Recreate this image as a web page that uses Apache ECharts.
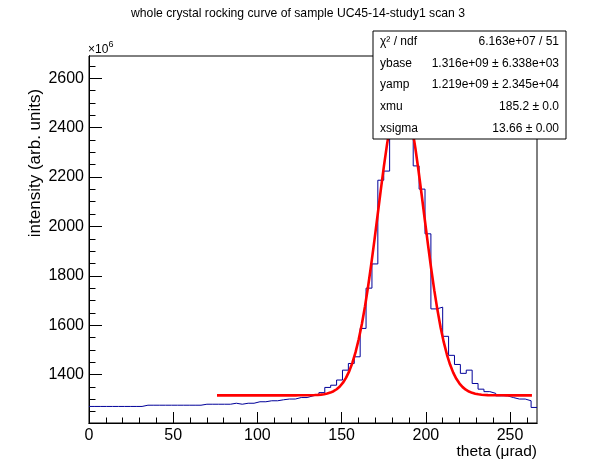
<!DOCTYPE html>
<html>
<head>
<meta charset="utf-8">
<title>whole crystal rocking curve</title>
<script src="https://cdn.jsdelivr.net/npm/echarts@6/dist/echarts.min.js"></script>
<style>
  html, body { margin: 0; padding: 0; background: #fff; }
  #chart { width: 596px; height: 472px; }
</style>
</head>
<body>
<div id="chart"></div>
<script>
// histogram: fixed width bins starting at theta = 0, values in units of 1e6
var binStart = 0;
var binWidth = 3.5;
var binValues = [
  1271, 1271, 1271, 1271, 1271, 1271, 1271, 1271, 1271,
  1276, 1276, 1276, 1276, 1276, 1276, 1276, 1276, 1276, 1276,
  1280, 1280, 1280, 1280, 1280, 1284, 1280, 1284, 1284,
  1290, 1290, 1294, 1294, 1298, 1301, 1301, 1307, 1307,
  1314, 1318, 1327, 1348, 1357, 1378, 1418, 1445, 1472,
  1587, 1750, 1848, 2187, 2224, 2470, 2620, 2560, 2420,
  2245, 2151, 1970, 1666, 1673, 1555, 1478, 1441, 1405,
  1418, 1364, 1341, 1331, 1324, 1314, 1314, 1307, 1301,
  1301, 1294, 1267
];

// axis ticks
var xTicks = [0, 50, 100, 150, 200, 250];
var xMinorTicks = [0, 10, 20, 30, 40, 50, 60, 70, 80, 90, 100, 110, 120, 130,
  140, 150, 160, 170, 180, 190, 200, 210, 220, 230, 240, 250, 260];
var yTicks = [1400, 1600, 1800, 2000, 2200, 2400, 2600];
var yMinorTicks = [1250, 1300, 1350, 1400, 1450, 1500, 1550, 1600, 1650, 1700,
  1750, 1800, 1850, 1900, 1950, 2000, 2050, 2100, 2150, 2200, 2250, 2300,
  2350, 2400, 2450, 2500, 2550, 2600, 2650];
var xRange = [0, 266];
var yRange = [1204, 2690];

// gaussian fit: ybase + yamp * exp(-(x - xmu)^2 / (2 xsigma^2)), from the stats box
var fitParams = [1316, 1219, 185.2, 13.66];
var fitRange = [76, 263];
var fitPoints = 100;

var statsLabels = ['\u03c7\u00b2 / ndf', 'ybase', 'yamp', 'xmu', 'xsigma'];
var statsValues = ['6.163e+07 / 51', '1.316e+09 \u00b1 6.338e+03',
  '1.219e+09 \u00b1 2.345e+04', '185.2 \u00b1 0.0', '13.66 \u00b1 0.00'];

var FONT = '"Liberation Sans", Arial, Helvetica, sans-serif';

// outline of the histogram, drawn as steps
function histSteps() {
  var pts = [];
  for (var i = 0; i < binValues.length; i++) {
    var x0 = binStart + i * binWidth;
    pts.push([x0, binValues[i]]);
    pts.push([x0 + binWidth, binValues[i]]);
  }
  return pts;
}

function fitCurve() {
  var pts = [];
  var step = (fitRange[1] - fitRange[0]) / fitPoints;
  for (var i = 0; i <= fitPoints; i++) {
    var x = fitRange[0] + i * step;
    var d = (x - fitParams[2]) / fitParams[3];
    pts.push([x, fitParams[0] + fitParams[1] * Math.exp(-0.5 * d * d)]);
  }
  return pts;
}

// plain numbers, no thousands separator
function plain(v) {
  return String(v);
}

var grid = { left: 89, top: 56, width: 448, height: 367 };

var chart = echarts.init(document.getElementById('chart'), null, { renderer: 'canvas' });

// stats box (top right, over the frame)
var box = { x: 373, y: 31, w: 193, h: 108 };
var statsGraphics = [{
  type: 'rect', z: 100,
  shape: { x: box.x, y: box.y, width: box.w, height: box.h },
  style: { fill: '#fff', stroke: '#000', lineWidth: 1 }
}];
statsLabels.forEach(function(label, i) {
  var cy = box.y + box.h / statsLabels.length * (i + 0.5);
  statsGraphics.push({
    type: 'text', z: 101, x: 380, y: cy,
    style: { text: label, font: '12px ' + FONT, fill: '#000', align: 'left', verticalAlign: 'middle' }
  });
  statsGraphics.push({
    type: 'text', z: 101, x: 559, y: cy,
    style: { text: statsValues[i], font: '12px ' + FONT, fill: '#000', align: 'right', verticalAlign: 'middle' }
  });
});

var tickLine = { color: '#000', width: 1 };

var option = {
  animation: false,
  backgroundColor: '#fff',
  grid: {
    left: grid.left, top: grid.top, width: grid.width, height: grid.height,
    show: true, borderColor: '#000', borderWidth: 1, backgroundColor: 'transparent'
  },
  xAxis: [{
    type: 'value', min: xRange[0], max: xRange[1], position: 'bottom',
    axisLine: { show: true, onZero: false, lineStyle: tickLine },
    axisTick: { show: true, inside: true, length: 11, customValues: xTicks, lineStyle: tickLine },
    axisLabel: { show: true, customValues: xTicks, formatter: plain, color: '#000',
      fontSize: 16, fontFamily: FONT, margin: 5 },
    splitLine: { show: false }
  }, {
    type: 'value', min: xRange[0], max: xRange[1], position: 'bottom',
    axisLine: { show: true, onZero: false, lineStyle: tickLine },
    axisTick: { show: true, inside: true, length: 5.5, customValues: xMinorTicks, lineStyle: tickLine },
    axisLabel: { show: false },
    splitLine: { show: false }
  }],
  yAxis: [{
    type: 'value', min: yRange[0], max: yRange[1], position: 'left',
    axisLine: { show: true, onZero: false, lineStyle: tickLine },
    axisTick: { show: true, inside: true, length: 13, customValues: yTicks, lineStyle: tickLine },
    axisLabel: { show: true, customValues: yTicks, formatter: plain, color: '#000',
      fontSize: 16, fontFamily: FONT, margin: 5 },
    splitLine: { show: false }
  }, {
    type: 'value', min: yRange[0], max: yRange[1], position: 'left',
    axisLine: { show: true, onZero: false, lineStyle: tickLine },
    axisTick: { show: true, inside: true, length: 6.5, customValues: yMinorTicks, lineStyle: tickLine },
    axisLabel: { show: false },
    splitLine: { show: false }
  }],
  series: [{
    name: 'hist', type: 'line', xAxisIndex: 0, yAxisIndex: 0,
    data: histSteps(), symbol: 'none', silent: true,
    lineStyle: { color: '#000099', width: 1 }
  }, {
    name: 'fit', type: 'line', xAxisIndex: 0, yAxisIndex: 0,
    data: fitCurve(), symbol: 'none', silent: true,
    lineStyle: { color: '#ff0000', width: 2.6 }
  }],
  graphic: [{
    type: 'text', x: 298, y: 14,
    style: { text: 'whole crystal rocking curve of sample UC45-14-study1 scan 3',
      font: '12.2px ' + FONT, fill: '#000', align: 'center', verticalAlign: 'middle' }
  }, {
    type: 'text', x: 35, y: 163, rotation: Math.PI / 2,
    style: { text: 'intensity (arb. units)', font: '17px ' + FONT, fill: '#000',
      align: 'center', verticalAlign: 'middle' }
  }, {
    type: 'text', x: 537, y: 452,
    style: { text: 'theta (\u03bcrad)', font: '15.5px ' + FONT, fill: '#000',
      align: 'right', verticalAlign: 'middle' }
  }, {
    type: 'text', x: 88, y: 49.5,
    style: { text: '\u00d710', font: '12px ' + FONT, fill: '#000', align: 'left', verticalAlign: 'middle' }
  }, {
    type: 'text', x: 108.5, y: 44.5,
    style: { text: '6', font: '9px ' + FONT, fill: '#000', align: 'left', verticalAlign: 'middle' }
  }].concat(statsGraphics)
};

chart.setOption(option);
</script>
</body>
</html>
